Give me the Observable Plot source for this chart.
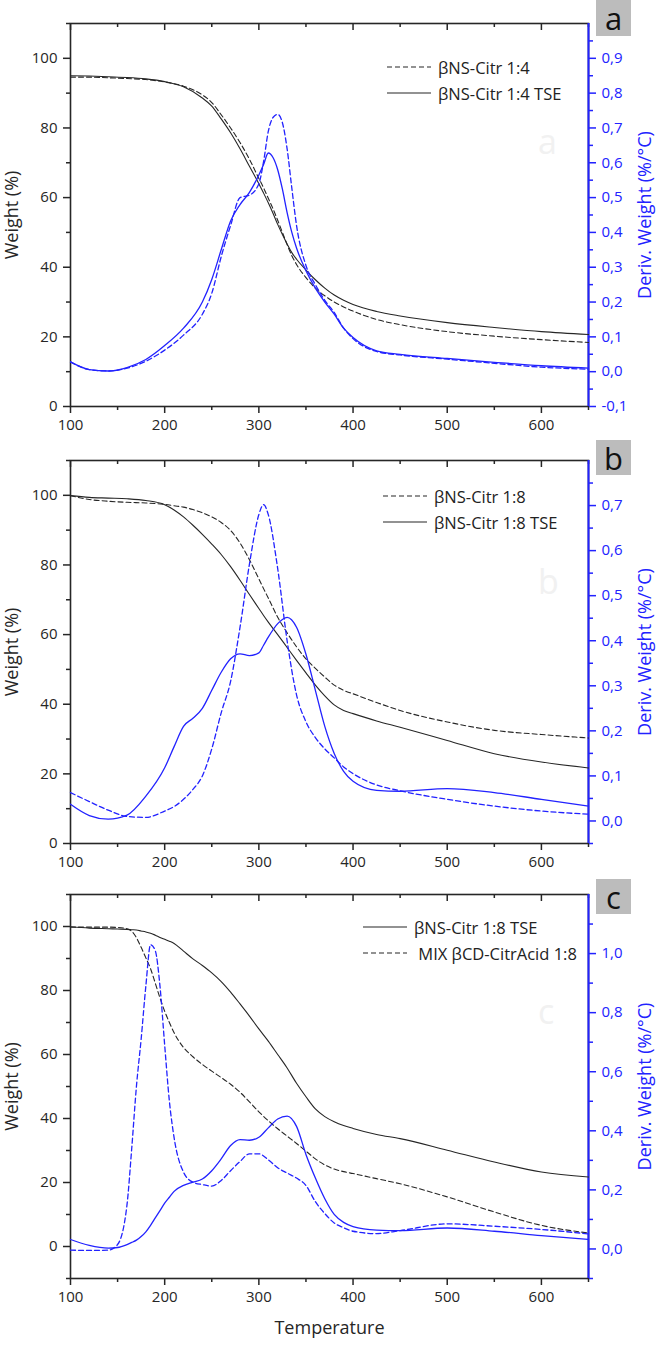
<!DOCTYPE html>
<html><head><meta charset="utf-8">
<script src="https://cdn.jsdelivr.net/npm/d3@7"></script>
<script src="https://cdn.jsdelivr.net/npm/@observablehq/plot@0.6"></script>
<style>
body{margin:0;background:#fff;font-family:"Open Sans",sans-serif;}
#wrap{position:relative;width:657px;height:1346px;overflow:hidden;background:#fff;}
.panel{position:absolute;left:0;}
.badge{position:absolute;left:596px;width:35px;background:#bcbcbc;color:#111;font-size:31px;text-align:center;display:flex;align-items:center;justify-content:center;}
.legend{position:absolute;font-size:16.5px;color:#222;}
.row{display:flex;align-items:center;height:26px;white-space:nowrap;}
.row svg{margin-right:7px;}
.wm{position:absolute;color:#f1f1f1;font-size:34px;}
</style></head><body><div id="wrap"></div><script>
// ---------- data ----------
const xTicks = [100, 200, 300, 400, 500, 600];
const xMinorTicks = [150, 250, 350, 450, 550, 650];

// Panel a
const aTemp = [100,120,140,160,180,200,220,240,250,260,270,280,290,300,305,310,315,320,325,330,335,340,350,360,370,380,390,400,425,450,500,550,600,650];
const aTGA = [94.6,94.6,94.4,94.2,93.9,93.2,92.0,89.5,87.3,83.8,80.0,75.8,71.0,65.5,62.8,59.8,56.8,53.5,50.0,46.5,43.3,40.8,37.0,34.0,31.8,30.0,28.6,27.4,25.0,23.5,21.5,20.2,19.2,18.4];
const aTGA_TSE = [95.0,94.9,94.7,94.5,94.1,93.3,91.8,88.6,86.3,82.6,78.6,74.0,69.0,64.0,61.3,58.5,55.5,52.3,49.4,46.7,44.2,42.3,39.2,36.4,34.0,32.0,30.5,29.3,27.3,26.0,24.1,22.7,21.5,20.7];
const aDTG = [0.028,0.006,0.002,0.010,0.030,0.062,0.105,0.165,0.225,0.330,0.420,0.500,0.507,0.540,0.603,0.690,0.730,0.739,0.715,0.640,0.527,0.420,0.305,0.250,0.205,0.170,0.125,0.095,0.058,0.048,0.036,0.024,0.013,0.007];
const aDTG_TSE = [0.028,0.006,0.002,0.012,0.035,0.075,0.125,0.200,0.265,0.350,0.433,0.480,0.515,0.565,0.595,0.628,0.615,0.580,0.524,0.457,0.400,0.355,0.290,0.240,0.200,0.165,0.125,0.098,0.060,0.050,0.038,0.027,0.017,0.010];

// Panel b
const bTemp = [100,120,140,160,180,200,210,220,230,240,250,260,270,280,290,300,305,310,320,330,340,350,360,370,380,390,400,425,450,500,550,600,650];
const bTGA = [99.9,98.8,98.3,98.0,97.8,97.4,97.0,96.6,95.9,95.0,93.8,92.2,89.9,86.3,81.5,76.0,73.2,70.5,65.0,60.5,56.5,53.0,50.3,47.8,45.5,44.0,43.0,40.5,38.2,34.9,32.5,31.3,30.3];
const bTGA_TSE = [99.9,99.4,99.2,99.0,98.5,97.3,95.8,93.8,91.4,88.8,86.0,83.0,79.5,75.6,71.5,67.5,65.5,63.6,60.0,56.3,52.6,49.0,45.5,42.4,39.8,38.2,37.3,35.2,33.4,29.6,25.8,23.4,21.7];
const bDTG = [0.063,0.043,0.024,0.010,0.008,0.022,0.032,0.048,0.070,0.100,0.160,0.240,0.310,0.430,0.570,0.680,0.702,0.680,0.560,0.400,0.280,0.220,0.185,0.160,0.140,0.120,0.105,0.080,0.067,0.048,0.033,0.022,0.015];
const bDTG_TSE = [0.037,0.012,0.004,0.013,0.055,0.118,0.165,0.210,0.228,0.250,0.290,0.330,0.360,0.371,0.367,0.373,0.390,0.408,0.438,0.452,0.430,0.370,0.290,0.210,0.150,0.110,0.088,0.068,0.066,0.072,0.063,0.048,0.033];

// Panel c
const cTemp = [100,120,140,150,160,165,170,175,180,185,190,195,200,205,210,220,230,240,250,260,270,280,290,300,310,320,330,340,350,360,370,380,390,400,425,450,500,550,600,650];
const cTGA_TSE = [99.9,99.5,99.3,99.2,99.1,99.0,98.9,98.6,98.3,97.9,97.3,96.6,96.0,95.4,94.7,92.3,89.9,87.8,85.5,82.8,79.5,75.8,72.0,68.0,64.2,60.0,55.8,51.0,46.8,43.0,40.6,39.0,37.8,36.9,35.0,33.7,30.1,26.4,23.3,21.7];
const cTGA_MIX = [99.8,99.8,99.8,99.7,99.3,98.5,96.5,93.5,90.2,86.8,82.3,77.7,73.5,70.0,66.8,62.2,59.3,56.9,54.8,52.8,50.7,48.2,45.2,42.1,39.3,36.8,34.5,32.2,29.8,27.4,25.5,24.2,23.4,22.8,21.2,19.6,15.5,10.8,6.6,4.2];
const cDTG_TSE = [0.032,0.012,0.003,0.005,0.015,0.022,0.030,0.042,0.058,0.080,0.105,0.130,0.155,0.175,0.195,0.215,0.226,0.237,0.265,0.305,0.350,0.370,0.368,0.378,0.410,0.440,0.450,0.415,0.320,0.240,0.170,0.117,0.090,0.076,0.064,0.062,0.071,0.060,0.045,0.032];
const cDTG_MIX = [-0.004,-0.005,-0.004,0.015,0.150,0.340,0.550,0.710,0.890,1.030,1.010,0.890,0.690,0.500,0.377,0.260,0.226,0.218,0.213,0.232,0.265,0.296,0.322,0.322,0.302,0.275,0.257,0.240,0.215,0.160,0.120,0.088,0.072,0.060,0.052,0.062,0.085,0.077,0.066,0.051];

const weightTicks = [0, 20, 40, 60, 80, 100];
const aDerivTicks = [-0.1,0,0.1,0.2,0.3,0.4,0.5,0.6,0.7,0.8,0.9];
const bDerivTicks = [0,0.1,0.2,0.3,0.4,0.5,0.6,0.7];
const cDerivTicks = [0,0.2,0.4,0.6,0.8,1.0];

// ---------- drawing ----------
const INK = "#262626", BLUE = "#2222ff";
const xDomain = [100, 650];
const wrap = document.getElementById("wrap");
const fmt = v => { const r = Math.round(v * 100) / 100; return (Math.abs(r) < 1e-9 ? 0 : r).toFixed(1).replace(".", ","); };
const blank = () => "";
const range = (a, b, s) => d3.range(a, b + s / 2, s).map(v => Math.round(v * 1000) / 1000);
const series = (t, v) => t.map((T, i) => ({T, v: v[i]}));

const panels = [
  {letter: "a", top: 0, height: 440, mt: 23, mb: 34, yDomain: [0, 110], dDomain: [-0.1, 1.0],
   wMinor: range(10, 110, 20), dTicks: aDerivTicks, dMinor: range(-0.05, 0.95, 0.1),
   temp: aTemp, tga: [[aTGA, true], [aTGA_TSE, false]], dtg: [[aDTG, true], [aDTG_TSE, false]],
   badgeTop: 0, badgeH: 36, wmTop: 118,
   legend: {left: 387, top: 54, items: [["βNS-Citr 1:4", true], ["βNS-Citr 1:4 TSE", false]]}},
  {letter: "b", top: 440, height: 439, mt: 20, mb: 36, yDomain: [0, 110], dDomain: [-0.05, 0.8],
   wMinor: range(10, 110, 20), dTicks: bDerivTicks, dMinor: range(-0.05, 0.75, 0.1),
   temp: bTemp, tga: [[bTGA, true], [bTGA_TSE, false]], dtg: [[bDTG, true], [bDTG_TSE, false]],
   badgeTop: 440, badgeH: 35, wmTop: 558,
   legend: {left: 383, top: 483, items: [["βNS-Citr 1:8", true], ["βNS-Citr 1:8 TSE", false]]}},
  {letter: "c", top: 879, height: 467, mt: 15, mb: 68, yDomain: [-10, 110], dDomain: [-0.1, 1.2],
   wMinor: range(-10, 110, 20), dTicks: cDerivTicks, dMinor: range(-0.1, 1.1, 0.2),
   temp: cTemp, tga: [[cTGA_TSE, false], [cTGA_MIX, true]], dtg: [[cDTG_TSE, false], [cDTG_MIX, true]],
   badgeTop: 879, badgeH: 35, wmTop: 988, xTitle: "Temperature",
   legend: {left: 363, top: 914, items: [["βNS-Citr 1:8 TSE", false], [" MIX βCD-CitrAcid 1:8", true]]}}
];

for (const p of panels) {
  const [y0, y1] = p.yDomain, [d0, d1] = p.dDomain;
  const toLeft = d => y0 + (d - d0) * (y1 - y0) / (d1 - d0);
  const toDeriv = w => d0 + (w - y0) * (d1 - d0) / (y1 - y0);
  const plotH = p.height - p.mt - p.mb;
  const perPx = (y1 - y0) / plotH; // data units per pixel, for inward top ticks
  const marks = [
    Plot.frame({stroke: INK, strokeWidth: 1.6}),
    Plot.axisX({anchor: "bottom", ticks: xTicks, tickSize: 7, tickPadding: 6, tickFormat: d => String(d), stroke: INK, fill: INK, strokeWidth: 1.5, label: null}),
    Plot.axisX({anchor: "bottom", ticks: xMinorTicks, tickSize: 4, tickFormat: blank, stroke: INK, strokeWidth: 1.5, label: null}),
    Plot.ruleX(xTicks, {x: d => d, y1: y1, y2: y1 - 7 * perPx, stroke: INK, strokeWidth: 1.5}),
    Plot.ruleX(xMinorTicks, {x: d => d, y1: y1, y2: y1 - 4 * perPx, stroke: INK, strokeWidth: 1.5}),
    Plot.axisY({anchor: "left", ticks: weightTicks, tickSize: 7, tickPadding: 6, tickFormat: d => String(d), stroke: INK, fill: INK, strokeWidth: 1.5, label: null}),
    Plot.axisY({anchor: "left", ticks: p.wMinor, tickSize: 4, tickFormat: blank, stroke: INK, strokeWidth: 1.5, label: null}),
    Plot.axisY({anchor: "right", ticks: p.dTicks.map(toLeft), tickSize: 7, tickPadding: 6, tickFormat: w => fmt(toDeriv(w)), stroke: BLUE, fill: BLUE, strokeWidth: 1.5, label: null}),
    Plot.axisY({anchor: "right", ticks: p.dMinor.map(toLeft), tickSize: 4, tickFormat: blank, stroke: BLUE, strokeWidth: 1.5, label: null}),
    Plot.ruleX([xDomain[1]], {x: d => d, stroke: BLUE, strokeWidth: 2}),
  ];
  for (const [vals, dashed] of p.tga) {
    marks.push(Plot.line(series(p.temp, vals), {x: "T", y: "v", stroke: INK, strokeWidth: 1.1, curve: "monotone-x", strokeDasharray: dashed ? "5,3" : null}));
  }
  for (const [vals, dashed] of p.dtg) {
    marks.push(Plot.line(series(p.temp, vals), {x: "T", y: d => toLeft(d.v), stroke: BLUE, strokeWidth: 1.3, curve: "monotone-x", strokeDasharray: dashed ? "5,3" : null}));
  }
  marks.push(Plot.text(["Weight (%)"], {text: d => d, frameAnchor: "left", textAnchor: "middle", rotate: -90, dx: -58, fill: INK, fontSize: 18}));
  marks.push(Plot.text(["Deriv. Weight (%/°C)"], {text: d => d, frameAnchor: "right", textAnchor: "middle", rotate: -90, dx: 57, fill: BLUE, fontSize: 18}));
  if (p.xTitle) marks.push(Plot.text([p.xTitle], {text: d => d, frameAnchor: "bottom", dy: 55, fill: INK, fontSize: 18}));

  const svg = Plot.plot({
    width: 657, height: p.height,
    marginLeft: 70, marginRight: 69, marginTop: p.mt, marginBottom: p.mb,
    x: {domain: xDomain},
    y: {domain: p.yDomain},
    style: {fontFamily: "'Open Sans', sans-serif", fontSize: "15px", color: INK, background: "transparent", overflow: "visible"},
    marks
  });
  svg.classList.add("panel");
  svg.style.top = p.top + "px";
  wrap.appendChild(svg);

  const wm = document.createElement("div");
  wm.className = "wm"; wm.textContent = p.letter;
  wm.style.left = "538px"; wm.style.top = p.wmTop + "px";
  wrap.appendChild(wm);

  const badge = document.createElement("div");
  badge.className = "badge"; badge.textContent = p.letter;
  badge.style.top = p.badgeTop + "px"; badge.style.height = p.badgeH + "px";
  wrap.appendChild(badge);

  const lg = document.createElement("div");
  lg.className = "legend";
  lg.style.left = p.legend.left + "px"; lg.style.top = p.legend.top + "px";
  for (const [label, dashed] of p.legend.items) {
    const row = document.createElement("div");
    row.className = "row";
    row.innerHTML = `<svg width="44" height="6"><line x1="0" x2="44" y1="3" y2="3" stroke="${INK}" stroke-width="1.2" ${dashed ? 'stroke-dasharray="5,3"' : ''}/></svg>`;
    const span = document.createElement("span");
    span.textContent = label; span.style.whiteSpace = "pre";
    row.appendChild(span);
    lg.appendChild(row);
  }
  wrap.appendChild(lg);
}
</script></body></html>
